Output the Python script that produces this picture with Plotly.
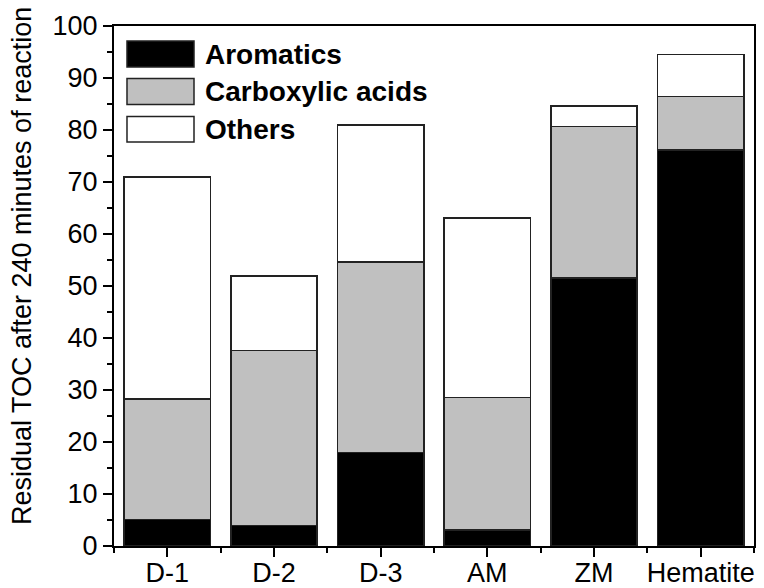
import plotly.graph_objects as go

categories = ["D-1", "D-2", "D-3", "AM", "ZM", "Hematite"]
series_names = ["Aromatics", "Carboxylic acids", "Others"]
aromatics = [5.1, 3.9, 18.0, 3.1, 51.5, 76.2]
carboxylic = [23.2, 33.7, 36.6, 25.5, 29.2, 10.2]
others = [42.7, 14.3, 26.4, 34.5, 3.9, 8.1]
colors = ["#000000", "#c0c0c0", "#ffffff"]
y_ticks = [0, 10, 20, 30, 40, 50, 60, 70, 80, 90, 100]
y_title = "Residual TOC after 240 minutes of reaction"

FONT = "Liberation Sans, Arial, sans-serif"
xpos = list(range(len(categories)))

fig = go.Figure()
for name, vals, col in zip(series_names, [aromatics, carboxylic, others], colors):
    fig.add_trace(go.Bar(
        x=xpos, y=vals, name=name, width=0.81,
        marker=dict(color=col, line=dict(color="#222222", width=1.5)),
        showlegend=False,
    ))

# manual legend (large swatches)
rows = [(0.971, 0.921), (0.899, 0.849), (0.826, 0.777)]
for (y1, y0), name, col in zip(rows, series_names, colors):
    fig.add_shape(type="rect", xref="paper", yref="paper",
                  x0=0.0203, x1=0.125, y0=y0, y1=y1,
                  fillcolor=col, line=dict(color="#222222", width=1.5))
    fig.add_annotation(xref="paper", yref="paper", x=0.139, y=(y0 + y1) / 2,
                       text="<b>" + name + "</b>", showarrow=False,
                       xanchor="left", yanchor="middle",
                       font=dict(family=FONT, size=28, color="black"))

# y-axis title as rotated annotation
fig.add_annotation(xref="paper", yref="paper", x=-0.144, y=0.538,
                   text=y_title, textangle=-90, showarrow=False,
                   xanchor="center", yanchor="middle",
                   font=dict(family=FONT, size=27, color="black"))

# page body has an 8px default margin -> figure sized/offset accordingly
fig.update_layout(
    barmode="stack",
    width=756, height=580,
    margin=dict(l=106, r=10, t=18, b=42),
    paper_bgcolor="white", plot_bgcolor="white",
    font=dict(family=FONT, color="black"),
)
fig.update_xaxes(
    range=[-0.5, 5.5], tickmode="array", tickvals=xpos, ticktext=categories,
    ticks="outside", ticklen=9, tickwidth=1.5, tickcolor="black",
    minor=dict(tick0=0.5, dtick=1, ticks="outside", ticklen=5, tickwidth=1.5, tickcolor="black"),
    showline=True, linecolor="black", linewidth=2, mirror=True,
    showgrid=False, zeroline=False, automargin=False,
    ticklabelstandoff=-7,
    tickfont=dict(family=FONT, size=27, color="black"),
)
fig.update_yaxes(
    range=[0, 100], tickmode="array", tickvals=y_ticks,
    ticks="outside", ticklen=9, tickwidth=1.5, tickcolor="black",
    minor=dict(dtick=5, ticks="outside", ticklen=5, tickwidth=1.5, tickcolor="black"),
    showline=True, linecolor="black", linewidth=2, mirror=True,
    showgrid=False, zeroline=False, automargin=False,
    tickfont=dict(family=FONT, size=27, color="black"),
)

fig.write_html("out.html")
